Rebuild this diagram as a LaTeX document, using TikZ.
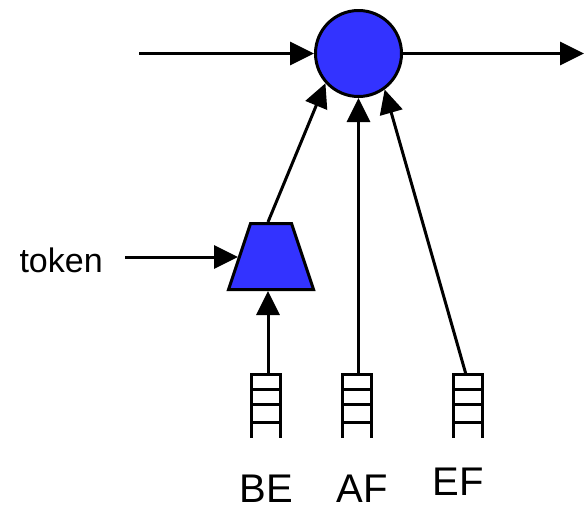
\documentclass[tikz,border=0pt]{standalone}
\usepackage{fontspec}
\setmainfont{Liberation Sans}
\usetikzlibrary{arrows.meta}
\definecolor{qblue}{RGB}{51,51,255}
\begin{document}
\begin{tikzpicture}[x=1pt,y=-1pt,
  line width=3pt,
  arr/.style={-{Triangle[length=24pt,width=23pt]}},
  lbl/.style={inner sep=0pt,anchor=base,font=\fontsize{40}{48}\selectfont},
  queue/.pic={
    \draw[line cap=rect] (-14.5,0) -- (14.5,0);
    \draw (-14.5,15) -- (14.5,15);
    \draw (-14.5,29.5) -- (14.5,29.5);
    \draw (-14.5,47.5) -- (14.5,47.5);
    \draw (-14.5,0) -- (-14.5,63);
    \draw (14.5,0) -- (14.5,63);
    \coordinate (-top) at (0,0);
  }]
\useasboundingbox (0,0) rectangle (585,507);
% central circle
\node[circle,draw,fill=qblue,minimum size=86pt,inner sep=0pt] (c) at (358.5,53.5) {};
% trapezium
\coordinate (trtl) at (250.5,223.5);
\coordinate (trtr) at (291.5,223.5);
\coordinate (trbr) at (313.5,289.5);
\coordinate (trbl) at (228.5,289.5);
\draw[fill=qblue,line join=miter] (trtl) -- (trtr) -- (trbr) -- (trbl) -- cycle;
% queues
\pic (be) at (266,374.5) {queue};
\pic (af) at (356.5,374.5) {queue};
\pic (ef) at (468,374.5) {queue};
% labels
\node[lbl] (lbe) at (266,502) {BE};
\node[lbl] (laf) at (362,502) {AF};
\node[lbl] (lef) at (458,495.5) {EF};
\node[inner sep=0pt,anchor=base west,font=\fontsize{34}{40}\selectfont] (tok) at (18,272) {token};
% connector end points
\coordinate (inl) at (139,53.5);
\coordinate (outr) at (584,53.5);
\coordinate (tokin) at (125,257);
\coordinate (tokend) at (238,257);
\coordinate (bein) at (268,374.5);
\coordinate (beend) at (268,291);
\coordinate (afin) at (358.5,374.5);
\coordinate (efin) at (466,374.5);
\coordinate (trtop) at (268,222);
% connectors
\draw[arr] (inl) -- (c.west);
\draw[arr] (c.east) -- (outr);
\draw[arr] (tokin) -- (tokend);
\draw[arr] (bein) -- (beend);
\draw[arr] (trtop) -- (c.222);
\draw[arr] (afin) -- (c.south);
\draw[arr] (efin) -- (c.306);
\end{tikzpicture}
\end{document}
